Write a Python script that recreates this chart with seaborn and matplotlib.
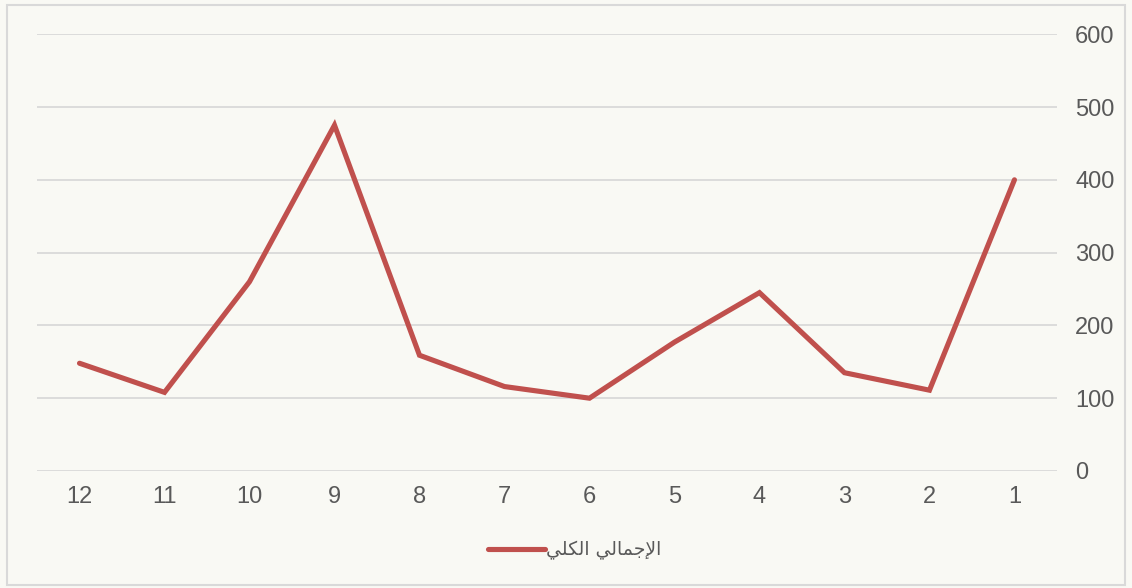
import matplotlib
matplotlib.use("Agg")
import matplotlib.pyplot as plt
from matplotlib.patches import Rectangle
import seaborn as sns
import pandas as pd

# Monthly totals (month 1..12)
months = [1, 2, 3, 4, 5, 6, 7, 8, 9, 10, 11, 12]
totals = [400, 111, 135, 245, 177, 100, 116, 159, 475, 260, 108, 148]
y_ticks = [0, 100, 200, 300, 400, 500, 600]
series_name = "الإجمالي الكلي"

LINE_COLOR = "#C0504D"
TEXT_COLOR = "#595959"
GRID_COLOR = "#D9D9D9"
BG_COLOR = "#F9F9F4"


def shape_arabic(text):
    """Convert logical Arabic text to contextual presentation forms in
    visual (left-to-right) order, since matplotlib does no bidi shaping."""
    # isolated, final, initial, medial
    forms = {
        "ا": ("\uFE8D", "\uFE8E", None, None),
        "إ": ("\uFE87", "\uFE88", None, None),
        "ج": ("\uFE9D", "\uFE9E", "\uFE9F", "\uFEA0"),
        "م": ("\uFEE1", "\uFEE2", "\uFEE3", "\uFEE4"),
        "ل": ("\uFEDD", "\uFEDE", "\uFEDF", "\uFEE0"),
        "ي": ("\uFEF1", "\uFEF2", "\uFEF3", "\uFEF4"),
        "ك": ("\uFED9", "\uFEDA", "\uFEDB", "\uFEDC"),
    }
    lam_alef = {"ا": ("\uFEFB", "\uFEFC"), "إ": ("\uFEF9", "\uFEFA")}

    def joins_next(ch):
        return ch in forms and forms[ch][2] is not None

    out = []
    chars = list(text)
    i = 0
    while i < len(chars):
        ch = chars[i]
        if ch not in forms:
            out.append(ch)
            i += 1
            continue
        prev_joins = i > 0 and joins_next(chars[i - 1]) and chars[i - 1] in forms
        if ch == "ل" and i + 1 < len(chars) and chars[i + 1] in lam_alef:
            iso, fin = lam_alef[chars[i + 1]]
            out.append(fin if prev_joins else iso)
            i += 2
            continue
        nxt = chars[i + 1] if i + 1 < len(chars) else None
        next_joins = joins_next(ch) and nxt in forms
        iso, fin, ini, med = forms[ch]
        if prev_joins and next_joins:
            out.append(med)
        elif prev_joins:
            out.append(fin)
        elif next_joins:
            out.append(ini)
        else:
            out.append(iso)
        i += 1
    return "".join(reversed(out))


sns.set_theme(style="white")
plt.rcParams["font.family"] = ["Liberation Sans", "DejaVu Sans"]

df = pd.DataFrame({"month": months, "total": totals})

fig = plt.figure(figsize=(11.32, 5.88), dpi=100, facecolor=BG_COLOR)
ax = fig.add_axes([0.0327, 0.199, 0.901, 0.7428])
ax.set_facecolor(BG_COLOR)

sns.lineplot(data=df, x="month", y="total", ax=ax, color=LINE_COLOR,
             linewidth=3.7, label=shape_arabic(series_name), sort=True,
             solid_joinstyle="miter", solid_capstyle="round")

ax.set_xlim(12.5, 0.5)
ax.set_ylim(0, 600)
ax.set_xticks(months)
ax.set_xticklabels([str(m) for m in months])
ax.set_yticks(y_ticks)
ax.yaxis.tick_right()
ax.grid(axis="y", color=GRID_COLOR, linewidth=1.3)
ax.grid(axis="x", visible=False)
ax.set_axisbelow(True)
for s in ax.spines.values():
    s.set_visible(False)
ax.tick_params(axis="both", length=0, labelsize=17, labelcolor=TEXT_COLOR)
ax.tick_params(axis="y", pad=13)
ax.tick_params(axis="x", pad=11)
for lbl in ax.get_yticklabels():
    lbl.set_horizontalalignment("left")
ax.set_xlabel("")
ax.set_ylabel("")

leg = ax.legend(loc="center", bbox_to_anchor=(0.508, 0.0646),
                bbox_transform=fig.transFigure, frameon=False, fontsize=13.5,
                handlelength=3.0, handletextpad=0.1, labelcolor=TEXT_COLOR)
for t in leg.get_texts():
    t.set_family("DejaVu Sans")

# Thin outer frame around the chart area
fig.patches.append(Rectangle((7 / 1132, 1 - 585 / 588), 1118 / 1132, 580 / 588,
                             transform=fig.transFigure, fill=False,
                             edgecolor=GRID_COLOR, linewidth=1.5))

fig.savefig("out.png", dpi=100, facecolor=BG_COLOR)
